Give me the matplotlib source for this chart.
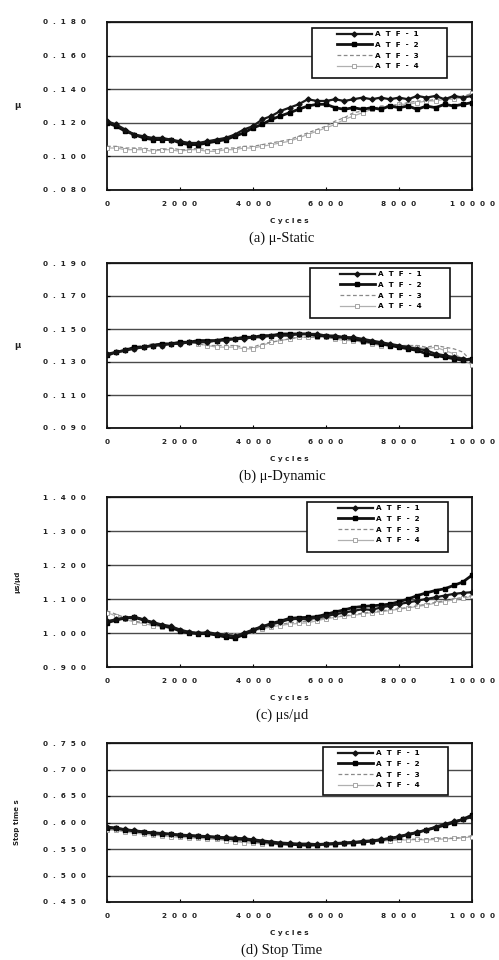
import matplotlib
matplotlib.use("Agg")
import matplotlib.pyplot as plt
from matplotlib.patches import Rectangle

# ---- data -------------------------------------------------------------
cycles = [0, 250, 500, 750, 1000, 1250, 1500, 1750, 2000, 2250, 2500, 2750,
          3000, 3250, 3500, 3750, 4000, 4250, 4500, 4750, 5000, 5250, 5500,
          5750, 6000, 6250, 6500, 6750, 7000, 7250, 7500, 7750, 8000, 8250,
          8500, 8750, 9000, 9250, 9500, 9750, 10000]

series_names = ["ATF-1", "ATF-2", "ATF-3", "ATF-4"]

# (a) static friction coefficient
mu_static_atf1 = [0.121, 0.119, 0.116, 0.113, 0.112, 0.111, 0.111, 0.110, 0.109, 0.108, 0.108,
                  0.109, 0.110, 0.111, 0.113, 0.116, 0.118, 0.122, 0.124, 0.127, 0.129, 0.131,
                  0.134, 0.133, 0.133, 0.134, 0.133, 0.134, 0.135, 0.134, 0.135, 0.134, 0.135,
                  0.134, 0.136, 0.135, 0.136, 0.134, 0.136, 0.135, 0.136]
mu_static_atf2 = [0.120, 0.118, 0.115, 0.113, 0.111, 0.110, 0.110, 0.110, 0.108, 0.107, 0.107,
                  0.108, 0.109, 0.110, 0.112, 0.114, 0.117, 0.119, 0.122, 0.124, 0.126, 0.128,
                  0.130, 0.131, 0.131, 0.129, 0.128, 0.129, 0.128, 0.129, 0.128, 0.130, 0.129,
                  0.130, 0.128, 0.130, 0.129, 0.131, 0.130, 0.131, 0.132]
mu_static_atf3 = [0.106, 0.106, 0.105, 0.105, 0.105, 0.104, 0.104, 0.105, 0.104, 0.104, 0.105,
                  0.104, 0.104, 0.105, 0.105, 0.106, 0.106, 0.107, 0.108, 0.109, 0.110, 0.112,
                  0.114, 0.116, 0.118, 0.121, 0.123, 0.126, 0.127, 0.128, 0.130, 0.130, 0.131,
                  0.132, 0.133, 0.133, 0.134, 0.134, 0.135, 0.136, 0.137]
mu_static_atf4 = [0.105, 0.105, 0.104, 0.104, 0.104, 0.103, 0.104, 0.104, 0.103, 0.104, 0.104,
                  0.103, 0.103, 0.104, 0.104, 0.105, 0.105, 0.106, 0.107, 0.108, 0.109, 0.111,
                  0.113, 0.115, 0.117, 0.119, 0.122, 0.124, 0.126, 0.128, 0.129, 0.130, 0.131,
                  0.131, 0.132, 0.133, 0.133, 0.134, 0.134, 0.135, 0.138]

# (b) dynamic friction coefficient
mu_dyn_atf1 = [0.135, 0.136, 0.137, 0.138, 0.139, 0.140, 0.140, 0.141, 0.141, 0.142, 0.142,
               0.142, 0.143, 0.143, 0.144, 0.144, 0.145, 0.145, 0.146, 0.146, 0.146, 0.147,
               0.147, 0.147, 0.146, 0.146, 0.145, 0.145, 0.144, 0.143, 0.142, 0.141, 0.140,
               0.139, 0.138, 0.137, 0.135, 0.134, 0.133, 0.132, 0.131]
mu_dyn_atf2 = [0.134, 0.136, 0.137, 0.139, 0.139, 0.140, 0.141, 0.141, 0.142, 0.142, 0.143,
               0.143, 0.143, 0.144, 0.144, 0.145, 0.145, 0.146, 0.146, 0.147, 0.147, 0.147,
               0.147, 0.146, 0.146, 0.145, 0.145, 0.144, 0.143, 0.142, 0.141, 0.140, 0.139,
               0.138, 0.137, 0.135, 0.134, 0.133, 0.132, 0.131, 0.132]
mu_dyn_atf3 = [0.135, 0.136, 0.138, 0.139, 0.140, 0.141, 0.141, 0.141, 0.142, 0.142, 0.141,
               0.140, 0.140, 0.140, 0.140, 0.139, 0.139, 0.141, 0.142, 0.143, 0.144, 0.145,
               0.145, 0.145, 0.145, 0.144, 0.144, 0.143, 0.142, 0.141, 0.141, 0.140, 0.140,
               0.140, 0.140, 0.139, 0.140, 0.139, 0.138, 0.136, 0.130]
mu_dyn_atf4 = [0.134, 0.136, 0.137, 0.138, 0.139, 0.140, 0.140, 0.141, 0.141, 0.142, 0.141,
               0.140, 0.139, 0.139, 0.139, 0.138, 0.138, 0.140, 0.142, 0.143, 0.144, 0.145,
               0.145, 0.145, 0.145, 0.144, 0.143, 0.143, 0.142, 0.141, 0.140, 0.140, 0.139,
               0.139, 0.139, 0.138, 0.139, 0.137, 0.135, 0.132, 0.128]

# (c) ratio of static to dynamic coefficient
ratio_atf1 = [1.035, 1.040, 1.045, 1.048, 1.040, 1.032, 1.025, 1.020, 1.010, 1.003, 1.000,
              1.002, 0.998, 0.995, 0.990, 1.000, 1.010, 1.020, 1.025, 1.032, 1.040, 1.042,
              1.040, 1.045, 1.050, 1.055, 1.060, 1.065, 1.070, 1.068, 1.075, 1.080, 1.085,
              1.090, 1.095, 1.100, 1.105, 1.110, 1.115, 1.118, 1.120]
ratio_atf2 = [1.030, 1.038, 1.044, 1.046, 1.038, 1.030, 1.022, 1.016, 1.006, 1.000, 0.998,
              0.998, 0.994, 0.988, 0.985, 0.995, 1.008, 1.018, 1.028, 1.035, 1.043, 1.045,
              1.046, 1.048, 1.055, 1.062, 1.068, 1.075, 1.078, 1.080, 1.082, 1.085, 1.092,
              1.100, 1.110, 1.118, 1.125, 1.130, 1.140, 1.150, 1.170]
ratio_atf3 = [1.065, 1.055, 1.045, 1.035, 1.030, 1.025, 1.020, 1.015, 1.010, 1.005, 1.002,
              1.003, 1.000, 0.998, 0.995, 1.000, 1.010, 1.015, 1.020, 1.025, 1.030, 1.032,
              1.035, 1.040, 1.045, 1.048, 1.050, 1.055, 1.058, 1.062, 1.065, 1.068, 1.072,
              1.075, 1.080, 1.085, 1.090, 1.095, 1.100, 1.105, 1.110]
ratio_atf4 = [1.060, 1.050, 1.040, 1.032, 1.028, 1.022, 1.018, 1.012, 1.008, 1.002, 1.000,
              1.000, 0.998, 0.996, 0.994, 0.998, 1.006, 1.012, 1.018, 1.022, 1.026, 1.028,
              1.030, 1.036, 1.042, 1.046, 1.050, 1.052, 1.056, 1.060, 1.062, 1.066, 1.070,
              1.074, 1.078, 1.082, 1.088, 1.092, 1.098, 1.102, 1.108]

# (d) stop time
stop_atf1 = [0.592, 0.590, 0.587, 0.585, 0.583, 0.581, 0.580, 0.578, 0.577, 0.576, 0.575,
             0.574, 0.573, 0.572, 0.571, 0.570, 0.568, 0.566, 0.564, 0.562, 0.561, 0.560,
             0.560, 0.559, 0.560, 0.561, 0.562, 0.563, 0.565, 0.566, 0.568, 0.570, 0.574,
             0.578, 0.582, 0.586, 0.592, 0.597, 0.602, 0.606, 0.610]
stop_atf2 = [0.590, 0.589, 0.586, 0.584, 0.582, 0.580, 0.579, 0.578, 0.576, 0.575, 0.574,
             0.573, 0.572, 0.570, 0.569, 0.568, 0.566, 0.564, 0.562, 0.560, 0.559, 0.558,
             0.557, 0.558, 0.559, 0.560, 0.561, 0.562, 0.563, 0.565, 0.567, 0.570, 0.573,
             0.577, 0.581, 0.586, 0.590, 0.595, 0.600, 0.606, 0.614]
stop_atf3 = [0.588, 0.587, 0.585, 0.583, 0.580, 0.578, 0.576, 0.575, 0.574, 0.573, 0.572,
             0.571, 0.570, 0.568, 0.566, 0.564, 0.563, 0.562, 0.560, 0.559, 0.558, 0.558,
             0.557, 0.557, 0.558, 0.559, 0.560, 0.562, 0.563, 0.565, 0.566, 0.567, 0.568,
             0.569, 0.568, 0.569, 0.570, 0.571, 0.570, 0.572, 0.575]
stop_atf4 = [0.586, 0.585, 0.582, 0.580, 0.578, 0.576, 0.575, 0.573, 0.572, 0.571, 0.570,
             0.569, 0.568, 0.566, 0.564, 0.562, 0.561, 0.560, 0.559, 0.558, 0.557, 0.557,
             0.556, 0.556, 0.557, 0.558, 0.559, 0.560, 0.562, 0.563, 0.565, 0.566, 0.567,
             0.567, 0.568, 0.567, 0.568, 0.569, 0.570, 0.571, 0.573]

x_ticks = [0, 2000, 4000, 6000, 8000, 10000]

yticks_a = [0.080, 0.100, 0.120, 0.140, 0.160, 0.180]
yticks_b = [0.090, 0.110, 0.130, 0.150, 0.170, 0.190]
yticks_c = [0.900, 1.000, 1.100, 1.200, 1.300, 1.400]
yticks_d = [0.450, 0.500, 0.550, 0.600, 0.650, 0.700, 0.750]

captions = ["(a) \u03bc-Static", "(b) \u03bc-Dynamic", "(c) \u03bcs/\u03bcd", "(d) Stop Time"]
ylabels = ["\u03bc", "\u03bc", "\u03bcs/\u03bcd", "Stop time s"]


def spaced(s, gap="  "):
    return gap.join(s)


# ---- figure -----------------------------------------------------------
fig = plt.figure(figsize=(4.99, 9.6), dpi=100)
fig.patch.set_facecolor("white")

W, H = 499.0, 960.0
left_px, right_px = 107, 472
# (top, bottom) of each plot frame in pixels
frames = [(22, 190), (263, 428), (497, 667), (743, 902)]
# legend box (left, right, top, bottom) in pixels
legend_boxes = [(312, 447, 28, 78), (310, 450, 268, 318),
                (307, 448, 502, 552), (323, 448, 747, 795)]

panels = [
    [mu_static_atf1, mu_static_atf2, mu_static_atf3, mu_static_atf4],
    [mu_dyn_atf1, mu_dyn_atf2, mu_dyn_atf3, mu_dyn_atf4],
    [ratio_atf1, ratio_atf2, ratio_atf3, ratio_atf4],
    [stop_atf1, stop_atf2, stop_atf3, stop_atf4],
]
yticks_all = [yticks_a, yticks_b, yticks_c, yticks_d]

styles = [
    dict(color="#1a1a1a", lw=1.6, marker="D", ms=2.6, mfc="#111111", mec="#111111"),
    dict(color="#111111", lw=2.0, marker="s", ms=3.0, mfc="#000000", mec="#000000"),
    dict(color="#8a8a8a", lw=0.9, ls=(0, (3, 2)), marker=None),
    dict(color="#b0b0b0", lw=0.9, marker="s", ms=2.2, mfc="white", mec="#999999", mew=0.6),
]

for i in range(4):
    series, yt = panels[i], yticks_all[i]
    top, bot = frames[i]
    fh = bot - top
    fw = right_px - left_px
    ax = fig.add_axes([left_px / W, 1 - bot / H, fw / W, fh / H])

    # lighter series first so the darker ones sit on top
    handles = {}
    for k in [3, 2, 1, 0]:
        ln, = ax.plot(cycles, series[k], zorder=3 + (3 - k), **styles[k])
        handles[k] = ln
    ax.set_xlim(0, 10000)
    ax.set_ylim(yt[0], yt[-1])
    ax.set_yticks(yt)
    ax.set_yticklabels([spaced("{:.3f}".format(v), "  ") for v in yt],
                       fontsize=5.2, fontweight="bold", color="#222222")
    ax.set_xticks(x_ticks)
    ax.set_xticklabels([spaced(str(v), "  ") for v in x_ticks],
                       fontsize=5.2, fontweight="bold", color="#222222")
    ax.tick_params(axis="y", direction="in", length=2, width=0.8, pad=15)
    ax.tick_params(axis="x", direction="in", length=2, width=0.8, pad=8)
    ax.grid(axis="y", color="#4a4a4a", lw=1.0)
    ax.set_axisbelow(True)
    for sp in ax.spines.values():
        sp.set_color("#111111")
        sp.set_linewidth(1.3)

    # legend frame
    lx0, lx1, ly0, ly1 = legend_boxes[i]
    box = Rectangle(((lx0 - left_px) / fw, 1 - (ly1 - top) / fh),
                    (lx1 - lx0) / fw, (ly1 - ly0) / fh, transform=ax.transAxes,
                    facecolor="white", edgecolor="#111111", lw=1.2, zorder=9)
    ax.add_patch(box)
    leg = ax.legend([handles[k] for k in range(4)],
                    [spaced(n, "  ") for n in series_names],
                    loc="upper right",
                    bbox_to_anchor=((lx1 - 28 - left_px) / fw, 1 - (ly0 + 3 - top) / fh),
                    frameon=False, handlelength=4.8, handletextpad=0.5,
                    borderpad=0.0, labelspacing=0.65, borderaxespad=0.0,
                    prop=dict(size=5.2, weight="bold"))
    leg.set_zorder(10)

    # axis titles and caption
    xc = (left_px + right_px) / 2 / W
    fig.text(xc, 1 - (bot + 31) / H, spaced("Cycles", " "), ha="center", va="center",
             fontsize=5.2, fontweight="bold", color="#222222")
    fig.text(xc - 0.015, 1 - (bot + 48) / H, captions[i], ha="center", va="center",
             fontsize=10.5, family="Liberation Serif", color="#111111")
    fig.text(17 / W, 1 - (top + bot) / 2 / H, ylabels[i], ha="center", va="center",
             rotation=90 if i >= 2 else 0, fontsize=5 if i >= 2 else 6,
             fontweight="bold", color="#222222")

fig.savefig("out.png", dpi=100, facecolor="white")
